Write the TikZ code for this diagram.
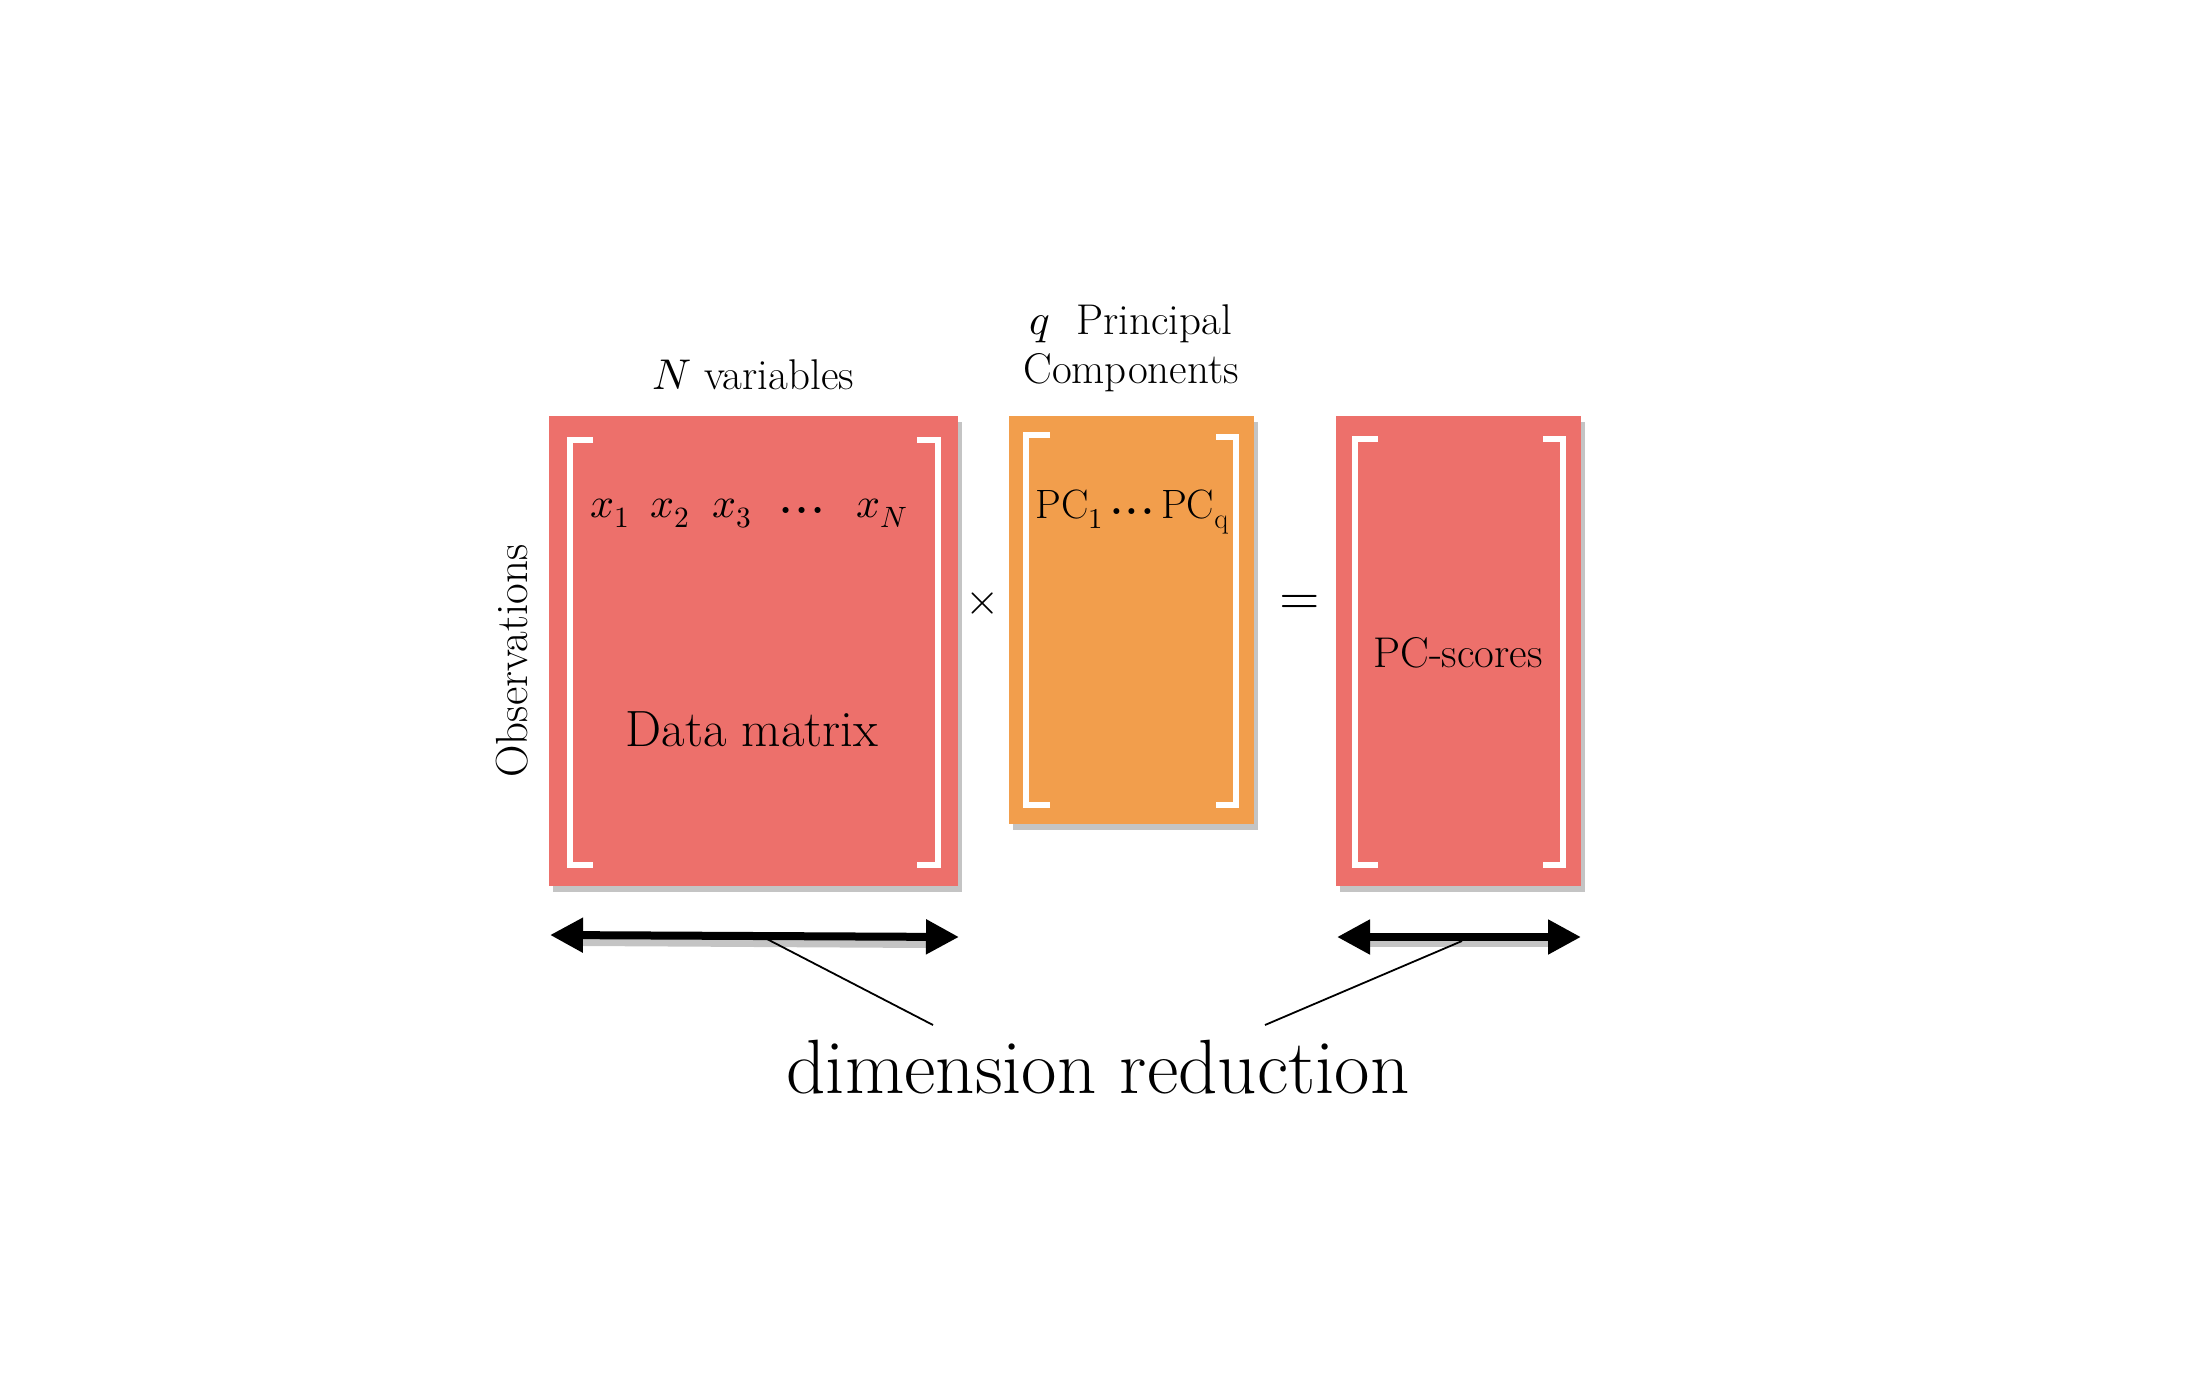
\documentclass[tikz,border=0pt]{standalone}
\usepackage{unicode-math}
\setmathfont{Latin Modern Math}
\usetikzlibrary{arrows.meta,shadows}
\definecolor{matred}{HTML}{ED706B}
\definecolor{matorange}{HTML}{F29E4C}
\definecolor{shadowgray}{HTML}{C4C4C4}
\newcommand{\fs}[1]{\fontsize{#1}{1.2\dimexpr#1pt\relax}\selectfont}
\newcommand{\heavydots}{\raisebox{4pt}{\bfseries.\kern0.07em.\kern0.07em.}}
\begin{document}
\begin{tikzpicture}[x=1pt,y=-1pt,
  matrect/.style={draw=none, inner sep=0pt, drop shadow={shadow xshift=4pt, shadow yshift=-6pt, fill=shadowgray, opacity=1}},
  brk/.style={draw=white, line width=6.5pt, line cap=butt, line join=miter},
  lbl/.style={inner sep=0pt, anchor=base},
  dimarrow/.style={line width=8pt, {Triangle[length=33pt,width=33pt]}-{Triangle[length=33pt,width=33pt]}},
  arrshadow/.style={draw=shadowgray, line width=8pt},
  pointer/.style={line width=1.8pt}
]
\useasboundingbox (0,0) rectangle (2206,1396);

% matrices
\node[matrect, fill=matred, minimum width=409pt, minimum height=470pt] (data) at (753.5,651) {};
\node[matrect, fill=matorange, minimum width=245pt, minimum height=408pt] (pcs) at (1131.5,620) {};
\node[matrect, fill=matred, minimum width=245pt, minimum height=470pt] (scores) at (1458.5,651) {};

% brackets
\draw[brk] (593,440) -- (570,440) -- (570,865) -- (593,865);
\draw[brk] (917,440) -- (938,440) -- (938,865) -- (917,865);
\draw[brk] (1050,435) -- (1026,435) -- (1026,805) -- (1050,805);
\draw[brk] (1216,437) -- (1236,437) -- (1236,805) -- (1216,805);
\draw[brk] (1378,439) -- (1355,439) -- (1355,865) -- (1378,865);
\draw[brk] (1543,439) -- (1563,439) -- (1563,865) -- (1543,865);

% labels
\node[lbl] (nvar) at (753,389) {\fs{43}$N$ variables};
\node[lbl] (qpc) at (1131,335) {\fs{43}$q$\ \ Principal};
\node[lbl] (comp) at (1131,384) {\fs{43}Components};
\node[lbl, anchor=base west] (x1) at (590,517) {\fs{42}$x_1$};
\node[lbl, anchor=base west] (x2) at (650,517) {\fs{42}$x_2$};
\node[lbl, anchor=base west] (x3) at (712,517) {\fs{42}$x_3$};
\node[lbl, anchor=base west] (xd) at (779,517) {\fs{42}\heavydots};
\node[lbl, anchor=base west] (xN) at (856,517) {\fs{42}$x_N$};
\node[lbl] (dm) at (752,746) {\fs{51}Data matrix};
\node[lbl] (pcl) at (1132,518) {\fs{41}PC$_1$\,\heavydots\,PC$_\mathrm{q}$};
\node[lbl] (psc) at (1458,667) {\fs{43}PC-scores};
\node[inner sep=0pt] (times) at (983,604) {\fs{44}$\times$};
\node[inner sep=0pt] (eq) at (1299.5,605) {\fs{52}$=$};
\node[inner sep=0pt, rotate=90] (obs) at (512,661) {\fs{45}Observations};
\node[lbl] (dr) at (1098,1093) {\fs{77}dimension reduction};

% dimension arrows
\coordinate (la) at (550,935);
\coordinate (lb) at (959,937);
\coordinate (ra) at (1337,937);
\coordinate (rb) at (1581,937);
\draw[arrshadow] (583,942) -- (927,944);
\draw[arrshadow] (1370,943) -- (1548,943);
\draw[dimarrow] (la) -- (lb);
\draw[dimarrow] (ra) -- (rb);

% pointers
\coordinate (lp) at (765,938);
\coordinate (lq) at (933,1025);
\coordinate (rp) at (1462,941);
\coordinate (rq) at (1265,1025);
\draw[pointer] (lp) -- (lq);
\draw[pointer] (rp) -- (rq);
\end{tikzpicture}
\end{document}
